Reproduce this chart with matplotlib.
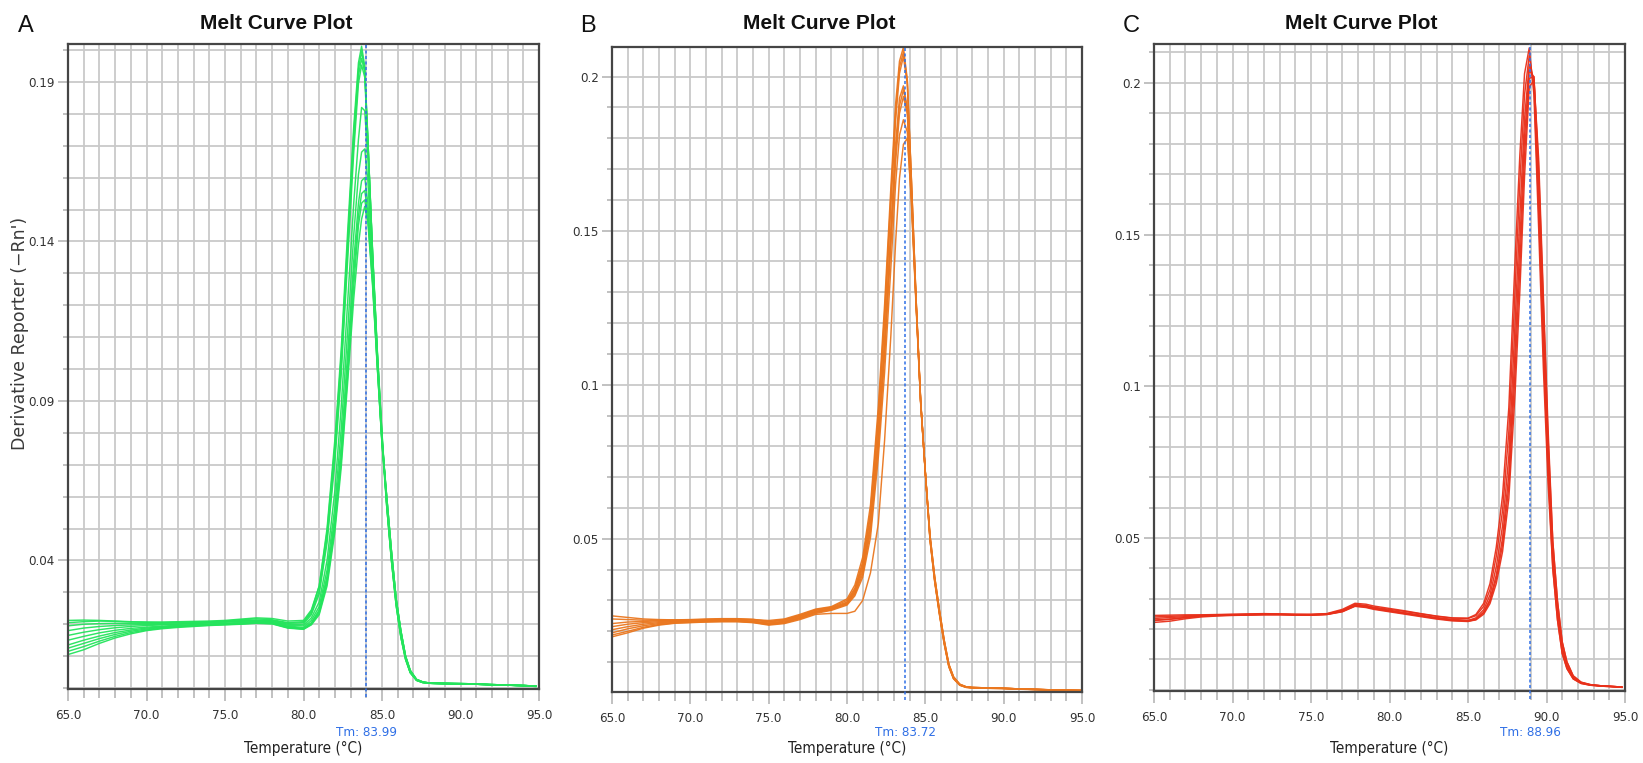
import matplotlib
matplotlib.use('Agg')
import matplotlib.pyplot as plt
from matplotlib.ticker import MultipleLocator, FixedLocator
import matplotlib.transforms as mtransforms
from matplotlib import font_manager

# ---------------- data ----------------
# Panel A (green)
A_temp = [65, 66, 67, 68, 69, 70, 71, 72, 73, 74, 75, 76, 77, 78, 79, 80,
          80.5, 81, 81.5, 82, 82.4, 82.8, 83.2, 83.5, 83.7, 83.9, 84.1, 84.4, 84.7, 85,
          85.3, 85.6, 85.9, 86.2, 86.5, 86.8, 87.2, 87.6, 88, 89, 90, 91, 92, 93, 94, 94.8]
A_plateau = [
    [0.0205, 0.0208, 0.0210, 0.0209, 0.0207, 0.0206, 0.0205, 0.0206, 0.0207, 0.0208, 0.0210, 0.0214, 0.0217, 0.0214, 0.0205, 0.0208],
    [0.0212, 0.0213, 0.0212, 0.0210, 0.0208, 0.0207, 0.0207, 0.0208, 0.0209, 0.0210, 0.0212, 0.0216, 0.0220, 0.0218, 0.0210, 0.0212],
    [0.0195, 0.0200, 0.0202, 0.0203, 0.0203, 0.0203, 0.0203, 0.0204, 0.0205, 0.0207, 0.0209, 0.0211, 0.0213, 0.0212, 0.0203, 0.0205],
    [0.0180, 0.0188, 0.0193, 0.0196, 0.0198, 0.0199, 0.0200, 0.0201, 0.0203, 0.0205, 0.0208, 0.0210, 0.0212, 0.0210, 0.0200, 0.0200],
    [0.0165, 0.0175, 0.0183, 0.0189, 0.0193, 0.0196, 0.0198, 0.0200, 0.0202, 0.0204, 0.0206, 0.0209, 0.0211, 0.0209, 0.0197, 0.0195],
    [0.0150, 0.0162, 0.0173, 0.0181, 0.0187, 0.0191, 0.0194, 0.0197, 0.0199, 0.0201, 0.0203, 0.0206, 0.0209, 0.0207, 0.0194, 0.0190],
    [0.0135, 0.0150, 0.0163, 0.0174, 0.0182, 0.0188, 0.0192, 0.0195, 0.0197, 0.0199, 0.0201, 0.0204, 0.0207, 0.0205, 0.0192, 0.0187],
    [0.0125, 0.0140, 0.0155, 0.0168, 0.0178, 0.0185, 0.0190, 0.0193, 0.0196, 0.0198, 0.0200, 0.0202, 0.0205, 0.0203, 0.0190, 0.0186],
    [0.0115, 0.0130, 0.0147, 0.0162, 0.0174, 0.0182, 0.0188, 0.0192, 0.0195, 0.0197, 0.0199, 0.0201, 0.0204, 0.0202, 0.0189, 0.0185],
    [0.0105, 0.0120, 0.0140, 0.0157, 0.0170, 0.0180, 0.0186, 0.0190, 0.0193, 0.0196, 0.0198, 0.0200, 0.0203, 0.0201, 0.0188, 0.0184],
]
A_rise = [
    [0.0240, 0.0320, 0.0500, 0.0780, 0.1060, 0.1420, 0.1760, 0.1960, 0.2012, 0.1950, 0.1720, 0.1360, 0.1050, 0.0790],
    [0.0245, 0.0320, 0.0490, 0.0760, 0.1040, 0.1390, 0.1740, 0.1940, 0.1995, 0.1940, 0.1720, 0.1360, 0.1050, 0.0785],
    [0.0235, 0.0305, 0.0470, 0.0730, 0.1010, 0.1360, 0.1710, 0.1920, 0.1974, 0.1930, 0.1720, 0.1370, 0.1060, 0.0800],
    [0.0230, 0.0295, 0.0455, 0.0710, 0.0980, 0.1330, 0.1680, 0.1895, 0.1953, 0.1915, 0.1710, 0.1365, 0.1055, 0.0795],
    [0.0220, 0.0270, 0.0400, 0.0620, 0.0880, 0.1200, 0.1520, 0.1720, 0.1820, 0.1810, 0.1660, 0.1340, 0.1040, 0.0780],
    [0.0212, 0.0255, 0.0370, 0.0570, 0.0810, 0.1110, 0.1420, 0.1610, 0.1680, 0.1690, 0.1590, 0.1310, 0.1030, 0.0775],
    [0.0205, 0.0245, 0.0350, 0.0540, 0.0760, 0.1040, 0.1340, 0.1520, 0.1590, 0.1600, 0.1520, 0.1290, 0.1020, 0.0770],
    [0.0202, 0.0240, 0.0340, 0.0520, 0.0730, 0.1000, 0.1300, 0.1480, 0.1550, 0.1560, 0.1490, 0.1280, 0.1010, 0.0770],
    [0.0200, 0.0235, 0.0330, 0.0505, 0.0710, 0.0970, 0.1260, 0.1450, 0.1520, 0.1530, 0.1470, 0.1270, 0.1010, 0.0765],
    [0.0198, 0.0230, 0.0320, 0.0490, 0.0690, 0.0950, 0.1220, 0.1390, 0.1470, 0.1510, 0.1460, 0.1260, 0.1005, 0.0765],
]
A_tails = [
    [0.058, 0.041, 0.027, 0.017, 0.0095, 0.0050, 0.0025, 0.0018, 0.0015, 0.0014, 0.0013, 0.0012, 0.0010, 0.0009, 0.0008, 0.0006],
    [0.057, 0.040, 0.026, 0.016, 0.0090, 0.0048, 0.0024, 0.0017, 0.0015, 0.0013, 0.0012, 0.0012, 0.0010, 0.0009, 0.0007, 0.0005],
    [0.060, 0.043, 0.028, 0.018, 0.0100, 0.0055, 0.0027, 0.0019, 0.0016, 0.0015, 0.0014, 0.0013, 0.0011, 0.0009, 0.0008, 0.0006],
]
A_tail_of_curve = [0, 0, 1, 1, 2, 2, 2, 0, 1, 2]

# Panel B (orange)
B_temp = [65, 66, 67, 68, 69, 70, 71, 72, 73, 74, 75, 76, 77, 78, 79, 80,
          80.5, 81, 81.5, 82, 82.4, 82.8, 83.1, 83.35, 83.6, 83.85, 84.1, 84.4, 84.7, 85,
          85.3, 85.6, 85.9, 86.2, 86.5, 86.8, 87.2, 87.6, 88, 89, 90, 91, 92, 93, 94, 95]
B_plateau = [
    [0.0250, 0.0245, 0.0240, 0.0238, 0.0237, 0.0237, 0.0238, 0.0240, 0.0240, 0.0238, 0.0235, 0.0240, 0.0255, 0.0272, 0.0280, 0.0305],
    [0.0240, 0.0238, 0.0236, 0.0236, 0.0237, 0.0238, 0.0240, 0.0241, 0.0241, 0.0239, 0.0232, 0.0238, 0.0252, 0.0270, 0.0278, 0.0300],
    [0.0225, 0.0230, 0.0232, 0.0234, 0.0235, 0.0236, 0.0237, 0.0238, 0.0238, 0.0236, 0.0230, 0.0236, 0.0250, 0.0268, 0.0276, 0.0295],
    [0.0215, 0.0223, 0.0228, 0.0231, 0.0233, 0.0234, 0.0235, 0.0236, 0.0236, 0.0233, 0.0227, 0.0233, 0.0248, 0.0265, 0.0274, 0.0292],
    [0.0205, 0.0215, 0.0223, 0.0228, 0.0231, 0.0232, 0.0233, 0.0235, 0.0235, 0.0231, 0.0225, 0.0231, 0.0245, 0.0263, 0.0272, 0.0290],
    [0.0195, 0.0208, 0.0218, 0.0225, 0.0229, 0.0231, 0.0232, 0.0233, 0.0233, 0.0230, 0.0223, 0.0229, 0.0243, 0.0261, 0.0270, 0.0288],
    [0.0188, 0.0200, 0.0213, 0.0222, 0.0227, 0.0229, 0.0231, 0.0232, 0.0232, 0.0229, 0.0222, 0.0227, 0.0241, 0.0258, 0.0268, 0.0285],
    [0.0182, 0.0195, 0.0210, 0.0220, 0.0226, 0.0228, 0.0230, 0.0231, 0.0231, 0.0228, 0.0220, 0.0225, 0.0238, 0.0255, 0.0258, 0.0258],
]
B_rise = [
    [0.0350, 0.0440, 0.0610, 0.0930, 0.1260, 0.1640, 0.1910, 0.2050, 0.2095, 0.1990, 0.1680, 0.1290, 0.0950, 0.0715],
    [0.0340, 0.0425, 0.0590, 0.0900, 0.1230, 0.1610, 0.1880, 0.2030, 0.2080, 0.1985, 0.1680, 0.1290, 0.0950, 0.0715],
    [0.0335, 0.0415, 0.0575, 0.0880, 0.1200, 0.1580, 0.1855, 0.2010, 0.2065, 0.1975, 0.1675, 0.1290, 0.0950, 0.0715],
    [0.0330, 0.0405, 0.0555, 0.0840, 0.1150, 0.1510, 0.1780, 0.1930, 0.1970, 0.1900, 0.1640, 0.1280, 0.0945, 0.0715],
    [0.0325, 0.0395, 0.0540, 0.0820, 0.1120, 0.1480, 0.1750, 0.1905, 0.1957, 0.1890, 0.1635, 0.1280, 0.0945, 0.0715],
    [0.0320, 0.0385, 0.0525, 0.0795, 0.1090, 0.1450, 0.1720, 0.1880, 0.1935, 0.1880, 0.1630, 0.1275, 0.0945, 0.0715],
    [0.0315, 0.0375, 0.0505, 0.0765, 0.1040, 0.1380, 0.1650, 0.1810, 0.1860, 0.1820, 0.1600, 0.1265, 0.0940, 0.0712],
    [0.0265, 0.0300, 0.0390, 0.0550, 0.0820, 0.1160, 0.1460, 0.1670, 0.1780, 0.1800, 0.1610, 0.1275, 0.0945, 0.0715],
]
B_tails = [
    [0.0500, 0.0365, 0.0260, 0.0165, 0.0088, 0.0048, 0.0026, 0.0019, 0.0017, 0.0016, 0.0015, 0.0013, 0.0011, 0.0010, 0.0009, 0.0008],
    [0.0510, 0.0375, 0.0268, 0.0172, 0.0093, 0.0052, 0.0028, 0.0020, 0.0018, 0.0016, 0.0015, 0.0013, 0.0012, 0.0010, 0.0009, 0.0008],
    [0.0495, 0.0360, 0.0255, 0.0160, 0.0085, 0.0046, 0.0025, 0.0018, 0.0016, 0.0015, 0.0014, 0.0012, 0.0011, 0.0009, 0.0008, 0.0007],
]
B_tail_of_curve = [0, 1, 2, 0, 1, 2, 0, 1]

# Panel C (red)
C_temp = [65, 66, 67, 68, 69, 70, 71, 72, 73, 74, 75, 76, 77, 77.8, 78.5, 79, 80, 81, 82, 83, 84, 85,
          85.5, 86, 86.4, 86.8, 87.2, 87.6, 88, 88.3, 88.6, 88.9, 89.2, 89.5, 89.8, 90.1,
          90.4, 90.7, 91, 91.3, 91.7, 92.2, 92.8, 93.5, 94.2, 94.8]
C_plateau = [
    [0.0240, 0.0242, 0.0244, 0.0246, 0.0247, 0.0248, 0.0249, 0.0250, 0.0249, 0.0248, 0.0248, 0.0250, 0.0262, 0.0282, 0.0278, 0.0272, 0.0265, 0.0258, 0.0250, 0.0242, 0.0236, 0.0236],
    [0.0245, 0.0246, 0.0247, 0.0247, 0.0248, 0.0249, 0.0250, 0.0251, 0.0250, 0.0249, 0.0249, 0.0251, 0.0265, 0.0285, 0.0282, 0.0276, 0.0268, 0.0260, 0.0251, 0.0243, 0.0237, 0.0235],
    [0.0228, 0.0232, 0.0238, 0.0243, 0.0245, 0.0246, 0.0247, 0.0248, 0.0248, 0.0247, 0.0247, 0.0249, 0.0259, 0.0278, 0.0274, 0.0268, 0.0260, 0.0252, 0.0244, 0.0236, 0.0230, 0.0228],
    [0.0222, 0.0226, 0.0234, 0.0240, 0.0243, 0.0245, 0.0246, 0.0247, 0.0247, 0.0246, 0.0246, 0.0248, 0.0257, 0.0275, 0.0271, 0.0265, 0.0257, 0.0249, 0.0241, 0.0233, 0.0227, 0.0225],
    [0.0235, 0.0238, 0.0241, 0.0244, 0.0246, 0.0247, 0.0248, 0.0249, 0.0249, 0.0248, 0.0247, 0.0249, 0.0260, 0.0279, 0.0276, 0.0270, 0.0262, 0.0254, 0.0246, 0.0238, 0.0232, 0.0229],
    [0.0230, 0.0233, 0.0238, 0.0242, 0.0245, 0.0246, 0.0247, 0.0248, 0.0248, 0.0247, 0.0246, 0.0248, 0.0258, 0.0276, 0.0273, 0.0267, 0.0259, 0.0251, 0.0243, 0.0235, 0.0229, 0.0226],
]
C_rise = [
    [0.0248, 0.0285, 0.0350, 0.0470, 0.0640, 0.0930, 0.1420, 0.1760, 0.2030, 0.2115, 0.1960, 0.1520, 0.1060, 0.0680],
    [0.0244, 0.0275, 0.0330, 0.0440, 0.0590, 0.0850, 0.1320, 0.1670, 0.1960, 0.2090, 0.1990, 0.1580, 0.1120, 0.0720],
    [0.0237, 0.0264, 0.0312, 0.0405, 0.0540, 0.0770, 0.1210, 0.1560, 0.1880, 0.2060, 0.2010, 0.1640, 0.1180, 0.0760],
    [0.0232, 0.0256, 0.0298, 0.0378, 0.0500, 0.0710, 0.1120, 0.1470, 0.1820, 0.2040, 0.2020, 0.1690, 0.1230, 0.0800],
    [0.0233, 0.0254, 0.0292, 0.0365, 0.0478, 0.0670, 0.1050, 0.1390, 0.1760, 0.2015, 0.2020, 0.1720, 0.1270, 0.0830],
    [0.0230, 0.0249, 0.0284, 0.0350, 0.0455, 0.0630, 0.0980, 0.1310, 0.1690, 0.1985, 0.2010, 0.1750, 0.1300, 0.0860],
]
C_tails = [
    [0.0400, 0.0230, 0.0120, 0.0070, 0.0036, 0.0021, 0.0015, 0.0012, 0.0010, 0.0008],
    [0.0445, 0.0262, 0.0138, 0.0080, 0.0040, 0.0023, 0.0016, 0.0013, 0.0011, 0.0009],
    [0.0490, 0.0292, 0.0158, 0.0092, 0.0046, 0.0025, 0.0017, 0.0013, 0.0011, 0.0009],
]
C_tail_of_curve = [0, 0, 1, 1, 2, 2]

panel_letters = ['A', 'B', 'C']
titles = ['Melt Curve Plot', 'Melt Curve Plot', 'Melt Curve Plot']
tm_values = [83.99, 83.72, 88.96]
tm_labels = ['Tm: 83.99', 'Tm: 83.72', 'Tm: 88.96']
y_tick_values = [[0.04, 0.09, 0.14, 0.19], [0.05, 0.1, 0.15, 0.2], [0.05, 0.1, 0.15, 0.2]]
y_tick_labels = [['0.04', '0.09', '0.14', '0.19'], ['0.05', '0.1', '0.15', '0.2'], ['0.05', '0.1', '0.15', '0.2']]
x_tick_values = [65, 70, 75, 80, 85, 90, 95]
x_tick_labels = ['65.0', '70.0', '75.0', '80.0', '85.0', '90.0', '95.0']
y_limits = [(-0.0003, 0.2019), (0.0003, 0.2096), (-0.0004, 0.2128)]
line_colors = ['#24e45c', '#ea771f', '#e8301a']
x_label = 'Temperature (°C)'
y_label = "Derivative Reporter (\u2212Rn')"

# ---------------- fonts ----------------
names = {f.name for f in font_manager.fontManager.ttflist}
cond_dejavu = any(f.name == 'DejaVu Sans' and f.stretch in ('condensed', 'semi-condensed')
                  for f in font_manager.fontManager.ttflist)
if 'Liberation Sans Narrow' in names:
    NARROW = dict(family=['Liberation Sans Narrow', 'DejaVu Sans'])
elif cond_dejavu:
    NARROW = dict(family=['DejaVu Sans'], fontstretch='condensed')
else:
    NARROW = dict(family=['Liberation Sans', 'DejaVu Sans'])
REG = ['Liberation Sans', 'DejaVu Sans']

# ---------------- layout ----------------
W, H = 1643, 763
fig = plt.figure(figsize=(W / 100, H / 100), dpi=100)
fig.patch.set_facecolor('white')


def fx(px):
    return px / W


def fy(py):
    return 1 - py / H


# axes boxes in pixels: left, right, top, bottom
boxes = [(68, 539, 44, 689), (612, 1082, 47, 692), (1154, 1625, 44, 691)]
title_x = [276, 819, 1361]
letter_x = [18, 580, 1123]

panel_data = [
    (A_temp, A_plateau, A_rise, A_tails, A_tail_of_curve),
    (B_temp, B_plateau, B_rise, B_tails, B_tail_of_curve),
    (C_temp, C_plateau, C_rise, C_tails, C_tail_of_curve),
]

grid_col = '#c9c9c9'
for i, (l, r, t, b) in enumerate(boxes):
    ax = fig.add_axes([fx(l), fy(b), fx(r - l), (b - t) / H])
    temps, plats, rises, tails, tidx = panel_data[i]
    for k in range(len(plats)):
        vals = plats[k] + rises[k] + tails[tidx[k]]
        ax.plot(temps, vals, color=line_colors[i], lw=1.05, alpha=0.95,
                zorder=3, solid_joinstyle='round')

    ax.set_xlim(65, 95)
    ax.set_ylim(*y_limits[i])
    ax.xaxis.set_major_locator(FixedLocator(x_tick_values))
    ax.set_xticklabels(x_tick_labels)
    ax.xaxis.set_minor_locator(MultipleLocator(1))
    ax.yaxis.set_major_locator(FixedLocator(y_tick_values[i]))
    ax.set_yticklabels(y_tick_labels[i])
    ax.yaxis.set_minor_locator(MultipleLocator(0.01))
    ax.grid(which='both', color=grid_col, lw=1.3, zorder=1)
    ax.set_axisbelow(True)

    ax.tick_params(axis='x', which='major', direction='out', length=8.6, width=1.1,
                   color='#b0b0b0', pad=6.0, labelsize=9.5, labelcolor='#333333')
    ax.tick_params(axis='x', which='minor', direction='out', length=6.5, width=1.1,
                   color='#b0b0b0')
    ax.tick_params(axis='y', which='major', direction='out', length=7.2, width=1.1,
                   color='#b0b0b0', pad=2.2, labelsize=9.5, labelcolor='#333333')
    ax.tick_params(axis='y', which='minor', direction='out', length=3.6, width=1.1,
                   color='#b0b0b0')
    for lab in ax.get_xticklabels() + ax.get_yticklabels():
        lab.set_family(NARROW['family'])
        if 'fontstretch' in NARROW:
            lab.set_stretch(NARROW['fontstretch'])

    for side, sp in ax.spines.items():
        sp.set_color('#454545')
        sp.set_linewidth(1.6)
        sp.set_zorder(5)

    ax.axvline(tm_values[i], ymin=-0.012, ymax=1, clip_on=False, color='#2f6fe6',
               lw=1.1, ls=(0, (2.0, 1.6)), zorder=6)

    trans = mtransforms.blended_transform_factory(ax.transData, fig.transFigure)
    ax.text(tm_values[i], fy(733), tm_labels[i], transform=trans, ha='center', va='center',
            color='#2f6fe6', fontsize=9.5, **NARROW)

    fig.text(fx((l + r) / 2), fy(748), x_label, ha='center', va='center',
             fontsize=11, color='#222222', **NARROW)

    fig.text(fx(title_x[i]), fy(29), titles[i], ha='center', va='baseline',
             fontsize=15, fontweight='bold', color='#111111', family=REG)
    fig.text(fx(letter_x[i]), fy(32), panel_letters[i], ha='left', va='baseline',
             fontsize=17, color='#111111', family=REG)

fig.text(fx(20), fy(333), y_label, rotation=90, ha='center', va='center',
         fontsize=12.5, color='#3a3a3a', family=['DejaVu Sans'])

fig.savefig('out.png', dpi=100, facecolor='white')
